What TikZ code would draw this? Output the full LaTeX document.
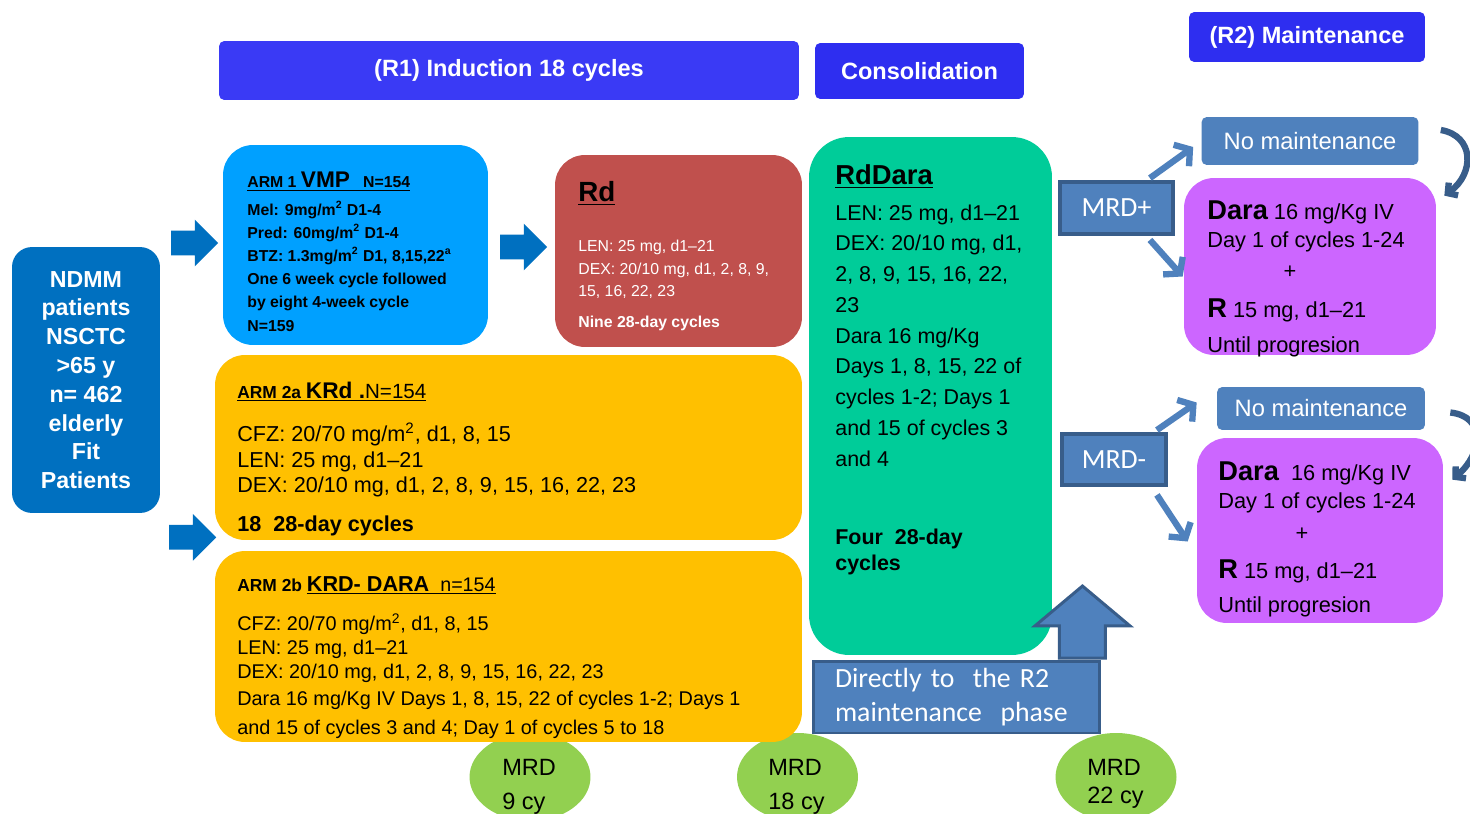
\documentclass[tikz,border=0pt]{standalone}
\usepackage{fontspec}
\setmainfont{Liberation Sans}
\newfontfamily\calibrifont{Carlito}
\usepackage{tikz}
\usetikzlibrary{arrows.meta,positioning,shapes.geometric,shapes.arrows,calc}
\definecolor{hdBlue}{RGB}{58,58,245}
\definecolor{hdBlueDk}{RGB}{46,46,240}
\definecolor{ndmmBlue}{RGB}{0,112,192}
\definecolor{vmpBlue}{RGB}{0,160,255}
\definecolor{rdRed}{RGB}{192,80,77}
\definecolor{armYellow}{RGB}{255,192,0}
\definecolor{consGreen}{RGB}{0,204,153}
\definecolor{steel}{RGB}{79,129,189}
\definecolor{steelDk}{RGB}{56,93,138}
\definecolor{maintViolet}{RGB}{204,102,255}
\definecolor{mrdGreen}{RGB}{146,208,80}
\newcommand{\fsz}[2]{\fontsize{#1}{#2}\selectfont}

\begin{document}
\begin{tikzpicture}[
    x=0.02cm, y=-0.02cm,
    bar/.style={fill=#1, rounded corners=3pt, text=white, font=\fsz{13.4}{16}\bfseries, inner sep=0pt},
    panel/.style={fill=#1, rounded corners=0.6cm, inner sep=0pt},
    txt/.style={inner sep=0pt, align=left, anchor=base west},
    fatarrow/.style={single arrow, fill=ndmmBlue, inner xsep=0pt, inner ysep=0.24cm, single arrow head extend=0.22cm, single arrow tip angle=90, minimum width=0pt, minimum height=0.94cm},
    upblock/.style={single arrow, fill=steel, draw=steelDk, line width=1.7pt, inner xsep=0pt, inner ysep=0.43cm, single arrow head extend=0.49cm, single arrow tip angle=100, minimum width=0pt, minimum height=1.44cm, rotate=90},
    mrdbox/.style={fill=steel, draw=steelDk, line width=2.2pt, text=white, font=\calibrifont\fsz{15.8}{18}, inner sep=0pt},
    directbox/.style={fill=steel, draw=steelDk, line width=1.7pt, text=white, font=\calibrifont\fsz{15.8}{19.3}, align=left, text width=4.86cm, inner xsep=0.44cm, minimum height=1.44cm},
    nomaint/.style={fill=steel, rounded corners=3pt, text=white, font=\fsz{13.5}{16}, inner sep=0pt},
    mrdcirc/.style={ellipse, fill=mrdGreen, minimum width=2.42cm, minimum height=1.76cm, inner sep=0pt},
    mrdtxt/.style={txt, font=\fsz{13.4}{19.3}},
    branch/.style={steel, line width=3.6pt, -{Straight Barb[length=6pt,width=15pt]}},
    loopback/.style={steelDk, line width=3.6pt, -{Straight Barb[length=4pt,width=9pt]}}
  ]
    \path[use as bounding box, fill=white] (0,0) rectangle (1470,814);

    \node[mrdcirc] (mrd9) at (530,777) {};
    \node[mrdcirc] (mrd18) at (797.5,777) {};
    \node[mrdcirc] (mrd22) at (1116,777) {};
    \node[mrdtxt] (mrd9txt) at (502,809) {MRD\\9 cy};
    \node[mrdtxt] (mrd18txt) at (768,809) {MRD\\18 cy};
    \node[mrdtxt, font=\fsz{13.4}{15.8}] (mrd22txt) at (1087,803) {MRD\\22 cy};

    \node[bar=hdBlue, minimum width=11.6cm, minimum height=1.18cm] (r1) at (509,70.5) {(R1) Induction 18 cycles};
    \node[bar=hdBlueDk, minimum width=4.18cm, minimum height=1.12cm] (cons) at (919.5,71) {Consolidation};
    \node[bar=hdBlueDk, minimum width=4.72cm, minimum height=1cm] (r2) at (1307,37) {(R2) Maintenance};

    \node[panel=ndmmBlue, rounded corners=0.4cm, minimum width=2.96cm, minimum height=5.32cm, text=white, align=center, font=\fsz{13.2}{16.4}\bfseries] (ndmm) at (86,380) {NDMM\\patients\\NSCTC\\>65 y\\n= 462\\elderly\\Fit\\Patients};
    \node[panel=vmpBlue, minimum width=5.3cm, minimum height=4cm] (vmp) at (355.5,245) {};
    \node[panel=rdRed, minimum width=4.94cm, minimum height=3.84cm] (rd) at (678.5,251) {};
    \node[panel=armYellow, minimum width=11.74cm, minimum height=3.7cm] (krd) at (508.5,447.5) {};
    \node[panel=armYellow, minimum width=11.74cm, minimum height=3.82cm] (krddara) at (508.5,646.5) {};
    \node[panel=consGreen, rounded corners=0.8cm, minimum width=4.86cm, minimum height=10.36cm] (rddara) at (930.5,396) {};
    \node[panel=maintViolet, minimum width=5.04cm, minimum height=3.54cm] (dara1) at (1310,266.5) {};
    \node[panel=maintViolet, minimum width=4.92cm, minimum height=3.7cm] (dara2) at (1320,530.5) {};

    \node[txt, font=\fsz{9}{13.2}\bfseries] (vmptitle) at (247,188) {\underline{ARM 1 {\fsz{12.9}{15}VMP}\ \ \ N=154}};
    \node[txt, font=\fsz{9}{13.2}\bfseries] (vmpbody) at (247,331) {Mel: 9mg/m\textsuperscript{2} D1-4\\
      Pred: 60mg/m\textsuperscript{2} D1-4\\
      BTZ: 1.3mg/m\textsuperscript{2} D1, 8,15,22\textsuperscript{a}\\
      One 6 week cycle followed\\
      by eight 4-week cycle\\
      N=159};
    \node[txt, font=\fsz{15.8}{18}\bfseries] (rdtitle) at (578,202) {\underline{Rd}};
    \node[txt, text=white, font=\fsz{9}{12.8}] (rdbody) at (578,327) {LEN: 25 mg, d1–21\\
      DEX: 20/10 mg, d1, 2, 8, 9,\\
      15, 16, 22, 23\\[4.5pt]
      \textbf{Nine 28-day cycles}};

    \node[txt, font=\fsz{11.7}{14}] (krdtitle) at (237,398) {\underline{{\fsz{9.9}{12}\bfseries ARM 2a }{\fsz{12.9}{15}\bfseries KRd .}N=154}};
    \node[txt, font=\fsz{12.3}{14.5}] (krdbody) at (237,531) {CFZ: 20/70 mg/m\textsuperscript{2}, d1, 8, 15\\
      LEN: 25 mg, d1–21\\
      DEX: 20/10 mg, d1, 2, 8, 9, 15, 16, 22, 23\\[7.4pt]
      \textbf{18\ \ 28-day cycles}};

    \node[txt, font=\fsz{11.2}{14}] (krddaratitle) at (237,591) {{\fsz{9.9}{12}\bfseries ARM 2b }\underline{{\fsz{12.3}{14}\bfseries KRD- DARA}\ \ n=154}};
    \node[txt, font=\fsz{11.3}{13.8}] (krddarabody) at (237,734) {CFZ: 20/70 mg/m\textsuperscript{2}, d1, 8, 15\\
      LEN: 25 mg, d1–21\\
      DEX: 20/10 mg, d1, 2, 8, 9, 15, 16, 22, 23\\[1.4pt]
      Dara 16 mg/Kg IV Days 1, 8, 15, 22 of cycles 1-2; Days 1\\[2.4pt]
      and 15 of cycles 3 and 4; Day 1 of cycles 5 to 18};

    \node[txt, font=\fsz{15.6}{18}\bfseries] (rddaratitle) at (835,185) {\underline{RdDara}};
    \node[txt, font=\fsz{12.2}{17.5}] (rddarabody) at (835,466) {LEN: 25 mg, d1–21\\
      DEX: 20/10 mg, d1,\\
      2, 8, 9, 15, 16, 22,\\
      23\\
      Dara 16 mg/Kg\\
      Days 1, 8, 15, 22 of\\
      cycles 1-2; Days 1\\
      and 15 of cycles 3\\
      and 4};
    \node[txt, font=\fsz{12.2}{14.5}\bfseries] (rddarafoot) at (835,570) {Four\ \ 28-day\\cycles};

    \node[txt, font=\fsz{12.4}{16}] (dara1txt) at (1207,352) {{\fsz{15.5}{18}\bfseries Dara} 16 mg/Kg IV\\
      Day 1 of cycles 1-24\\[1.7pt]
      \hspace*{43.4pt}+\\[6.2pt]
      {\fsz{15.5}{18}\bfseries R} 15 mg, d1–21\\[3.4pt]
      Until progresion};
    \node[txt, font=\fsz{12.4}{16}] (dara2txt) at (1218,612) {{\fsz{15.5}{18}\bfseries Dara}\ \ 16 mg/Kg IV\\
      Day 1 of cycles 1-24\\[2.4pt]
      \hspace*{44pt}+\\[5.3pt]
      {\fsz{15.5}{18}\bfseries R} 15 mg, d1–21\\[3.3pt]
      Until progresion};

    \node[mrdbox, minimum width=2.26cm, minimum height=1.04cm] (mrdp) at (1116.5,208) {MRD+};
    \node[mrdbox, minimum width=2.08cm, minimum height=1.02cm] (mrdm) at (1114,459.5) {MRD-};
    \node[nomaint, minimum width=4.34cm, minimum height=0.96cm] (nomaint1) at (1310,141) {No maintenance};
    \node[nomaint, minimum width=4.16cm, minimum height=0.86cm] (nomaint2) at (1321,408.5) {No maintenance};
    \node[directbox] (direct) at (956.5,697) {Directly to\ \ the R2\\maintenance\ \ phase};

    \node[fatarrow, anchor=tip] (arr1) at ($(vmp.west)+(-4,-2)$) {};
    \node[fatarrow, anchor=tip] (arr2) at ($(krd.south west)+(2,-3)$) {};
    \node[fatarrow, anchor=tip] (arr3) at ($(rd.west)+(-7,-4)$) {};
    \node[upblock, anchor=tail] (uparr) at ($(direct.north east)+(-19,0)$) {};

    \draw[branch] ($(mrdp.north east)+(-25,-2)$) -- ($(nomaint1.west)+(-8,6)$);
    \draw[branch] ($(mrdp.south east)+(-25,4)$) -- ($(dara1.west)+(-1,10)$);
    \draw[branch] ($(mrdm.north east)+(-11,-2)$) -- ($(nomaint2.west)+(-20,-6)$);
    \draw[branch] ($(mrdm.south east)+(-11,8)$) -- ($(dara2.west)+(-9,11)$);
    \draw[loopback] ($(nomaint1.east)+(22,-11)$) .. controls +(34,6) and +(30,-22) .. ($(dara1.north east)+(8,18)$);
    \draw[loopback] ($(nomaint2.east)+(25,4)$) .. controls +(36,4) and +(30,-26) .. ($(dara2.north east)+(9,42)$);
  \end{tikzpicture}
\end{document}
